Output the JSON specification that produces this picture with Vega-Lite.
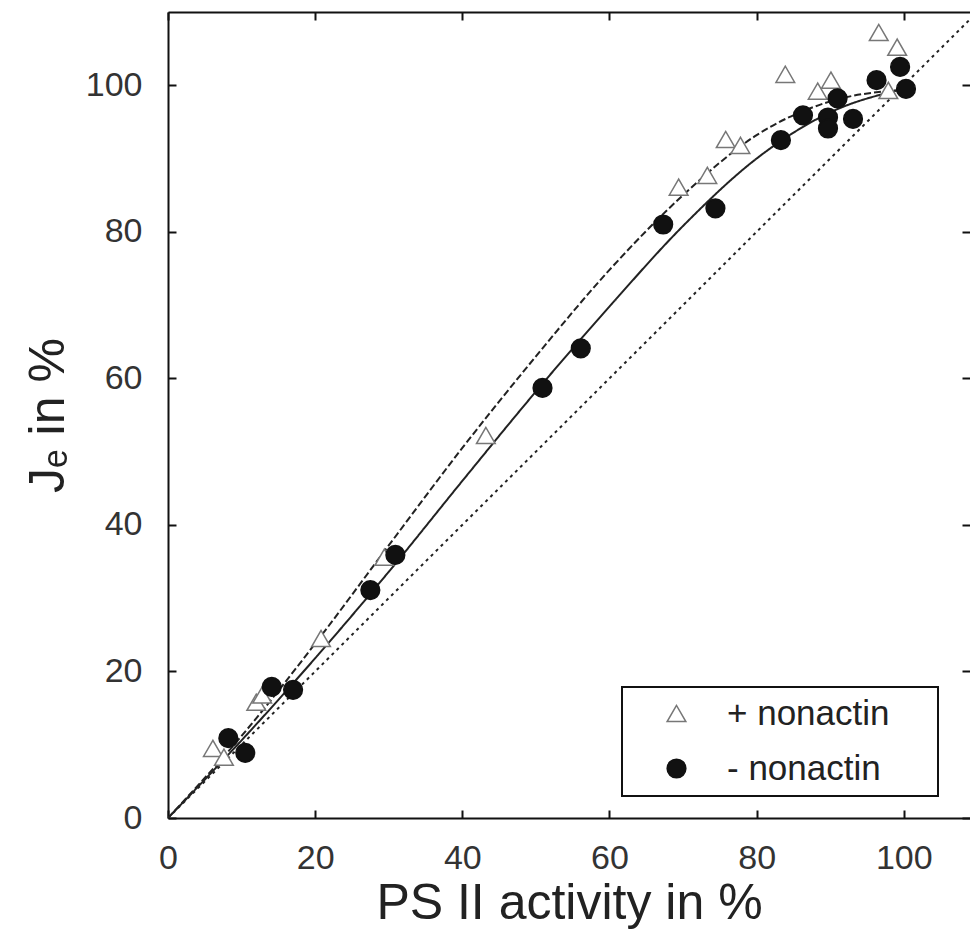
{
  "$schema": "https://vega.github.io/schema/vega-lite/v6.json",
  "autosize": {"type": "none"},
  "padding": {"left": 168, "top": 12, "right": 0, "bottom": 127},
  "width": 802,
  "height": 806,
  "background": "white",
  "config": {
    "view": {"stroke": null},
    "font": "Liberation Sans",
    "axis": {
      "grid": false,
      "domainColor": "#111",
      "domainWidth": 2,
      "tickColor": "#111",
      "tickWidth": 2,
      "tickSize": -8,
      "labelFont": "Liberation Sans",
      "labelFontSize": 34,
      "labelColor": "#333",
      "labelFlush": false,
      "titleFont": "Liberation Sans",
      "titleFontSize": 50,
      "titleFontWeight": "normal",
      "titleColor": "#222"
    },
    "legend": {
      "strokeWidth": 2
    }
  },
  "datasets": {
    "points": [
      {"series": "+ nonactin", "x": 6.1, "y": 9.5},
      {"series": "+ nonactin", "x": 7.6, "y": 8.3},
      {"series": "+ nonactin", "x": 12.0, "y": 15.8},
      {"series": "+ nonactin", "x": 12.8, "y": 16.8},
      {"series": "+ nonactin", "x": 20.8, "y": 24.5},
      {"series": "+ nonactin", "x": 29.4, "y": 35.6},
      {"series": "+ nonactin", "x": 43.2, "y": 52.2},
      {"series": "+ nonactin", "x": 69.4, "y": 86.1},
      {"series": "+ nonactin", "x": 73.3, "y": 87.7},
      {"series": "+ nonactin", "x": 75.8, "y": 92.6},
      {"series": "+ nonactin", "x": 77.8, "y": 91.8},
      {"series": "+ nonactin", "x": 83.9, "y": 101.5},
      {"series": "+ nonactin", "x": 88.3, "y": 99.2},
      {"series": "+ nonactin", "x": 90.1, "y": 100.7},
      {"series": "+ nonactin", "x": 96.6, "y": 107.2},
      {"series": "+ nonactin", "x": 99.1, "y": 105.2},
      {"series": "+ nonactin", "x": 97.9, "y": 99.3},
      {"series": "- nonactin", "x": 8.2, "y": 10.9},
      {"series": "- nonactin", "x": 10.5, "y": 8.9},
      {"series": "- nonactin", "x": 14.1, "y": 17.9},
      {"series": "- nonactin", "x": 17.0, "y": 17.5},
      {"series": "- nonactin", "x": 27.5, "y": 31.1},
      {"series": "- nonactin", "x": 30.9, "y": 35.9},
      {"series": "- nonactin", "x": 50.9, "y": 58.7},
      {"series": "- nonactin", "x": 56.1, "y": 64.1},
      {"series": "- nonactin", "x": 67.3, "y": 81.0},
      {"series": "- nonactin", "x": 74.4, "y": 83.2},
      {"series": "- nonactin", "x": 83.3, "y": 92.5},
      {"series": "- nonactin", "x": 86.3, "y": 95.9},
      {"series": "- nonactin", "x": 89.7, "y": 95.6},
      {"series": "- nonactin", "x": 89.7, "y": 94.1},
      {"series": "- nonactin", "x": 91.0, "y": 98.2},
      {"series": "- nonactin", "x": 93.1, "y": 95.4},
      {"series": "- nonactin", "x": 96.3, "y": 100.7},
      {"series": "- nonactin", "x": 99.5, "y": 102.5},
      {"series": "- nonactin", "x": 100.3, "y": 99.5}
    ],
    "curves": [
      {"curve": "identity", "x": 0, "y": 0},
      {"curve": "identity", "x": 110, "y": 110},
      {"curve": "fit +", "x": 0, "y": 0},
      {"curve": "fit +", "x": 10, "y": 11.2},
      {"curve": "fit +", "x": 20, "y": 23.8},
      {"curve": "fit +", "x": 30, "y": 37.2},
      {"curve": "fit +", "x": 40, "y": 50.5},
      {"curve": "fit +", "x": 50, "y": 63.0},
      {"curve": "fit +", "x": 60, "y": 74.8},
      {"curve": "fit +", "x": 70, "y": 85.0},
      {"curve": "fit +", "x": 80, "y": 93.2},
      {"curve": "fit +", "x": 90, "y": 97.8},
      {"curve": "fit +", "x": 100, "y": 99.4},
      {"curve": "fit -", "x": 0, "y": 0},
      {"curve": "fit -", "x": 10, "y": 10.6},
      {"curve": "fit -", "x": 20, "y": 21.8},
      {"curve": "fit -", "x": 30, "y": 33.6},
      {"curve": "fit -", "x": 40, "y": 46.0},
      {"curve": "fit -", "x": 50, "y": 58.2},
      {"curve": "fit -", "x": 60, "y": 69.8},
      {"curve": "fit -", "x": 70, "y": 80.8},
      {"curve": "fit -", "x": 80, "y": 90.0},
      {"curve": "fit -", "x": 90, "y": 96.3},
      {"curve": "fit -", "x": 100, "y": 99.5}
    ]
  },
  "resolve": {"axis": {"x": "independent", "y": "independent"}},
  "layer": [
    {
      "data": {"name": "curves"},
      "mark": {"type": "line", "color": "#222", "strokeWidth": 2, "interpolate": "monotone", "clip": true},
      "encoding": {
        "x": {
          "field": "x", "type": "quantitative",
          "scale": {"domain": [0, 109], "nice": false, "zero": false},
          "axis": {"values": [0, 20, 40, 60, 80, 100], "labelPadding": 31, "title": "PS II activity in %", "titlePadding": 3}
        },
        "y": {
          "field": "y", "type": "quantitative",
          "scale": {"domain": [0, 110], "nice": false, "zero": false},
          "axis": {"values": [0, 20, 40, 60, 80, 100], "labelPadding": 34, "title": "Jₑ in %", "titlePadding": 12}
        },
        "detail": {"field": "curve"},
        "strokeDash": {
          "field": "curve", "type": "nominal",
          "scale": {"domain": ["fit +", "fit -", "identity"], "range": [[7, 3], [1, 0], [3, 4]]},
          "legend": null
        }
      }
    },
    {
      "data": {"name": "points"},
      "mark": {"type": "point", "filled": true, "opacity": 1, "size": 350, "strokeWidth": 1.5},
      "encoding": {
        "x": {"field": "x", "type": "quantitative", "axis": null},
        "y": {"field": "y", "type": "quantitative", "axis": null},
        "shape": {
          "field": "series", "type": "nominal",
          "scale": {"domain": ["+ nonactin", "- nonactin"], "range": ["triangle-up", "circle"]},
          "legend": {
            "title": null, "orient": "none", "legendX": 454, "legendY": 675,
            "strokeColor": "#111", "padding": 9, "rowPadding": 19,
            "symbolSize": 350, "symbolOffset": 28, "labelOffset": 33,
            "symbolStrokeWidth": 1.5, "labelLimit": 500,
            "labelFont": "Liberation Sans", "labelFontSize": 35, "labelColor": "#222",
            "labelExpr": "datum.label + '\u00a0\u00a0\u00a0\u00a0\u200b'"
          }
        },
        "fill": {
          "field": "series", "type": "nominal",
          "scale": {"domain": ["+ nonactin", "- nonactin"], "range": ["white", "#111"]}
        },
        "stroke": {
          "field": "series", "type": "nominal",
          "scale": {"domain": ["+ nonactin", "- nonactin"], "range": ["#777", "#111"]}
        }
      }
    },
    {
      "data": {"name": "points"},
      "mark": {"type": "point", "opacity": 0},
      "encoding": {
        "x": {
          "field": "x", "type": "quantitative",
          "axis": {"orient": "top", "values": [0, 20, 40, 60, 80, 100], "labels": false, "title": null}
        },
        "y": {
          "field": "y", "type": "quantitative",
          "axis": {"orient": "right", "values": [0, 20, 40, 60, 80, 100], "labels": false, "title": null, "domain": false}
        }
      }
    }
  ]
}
